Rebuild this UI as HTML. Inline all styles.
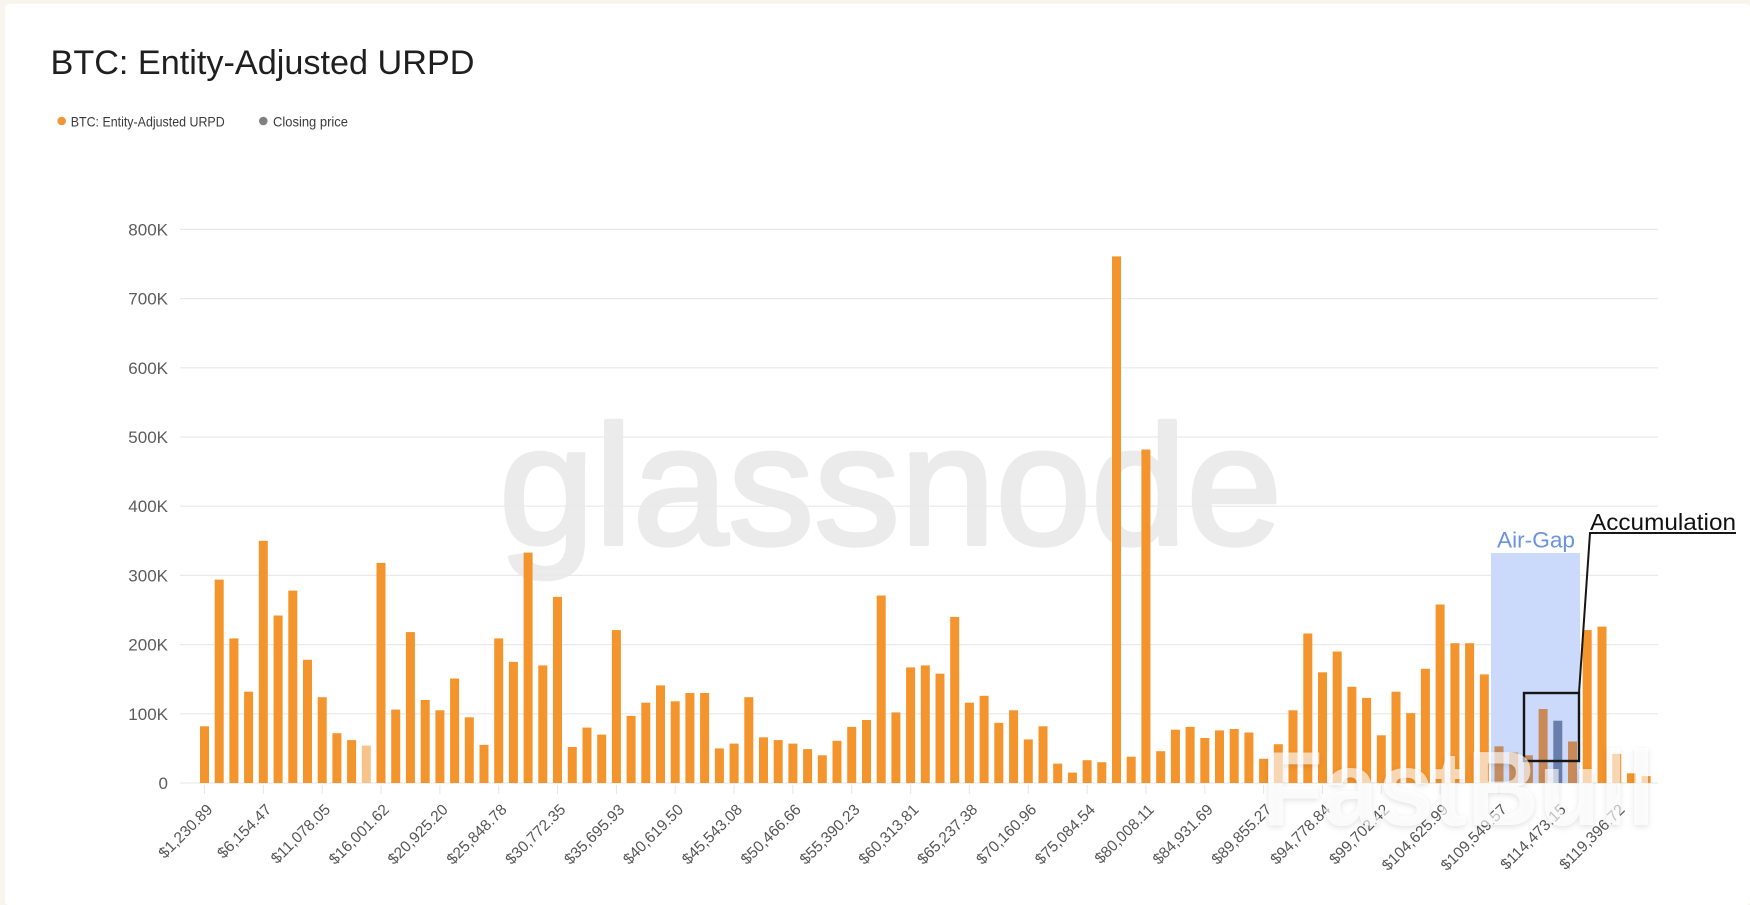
<!DOCTYPE html>
<html>
<head>
<meta charset="utf-8">
<style>
html,body{margin:0;padding:0;background:#f8f5ee;}
body{width:1750px;height:905px;overflow:hidden;}
svg{display:block;}
text{font-family:"Liberation Sans",sans-serif;}
</style>
</head>
<body>
<svg width="1750" height="905" viewBox="0 0 1750 905" xmlns="http://www.w3.org/2000/svg">
<defs>
<filter id="sh" x="-10%" y="-20%" width="120%" height="150%">
<feDropShadow dx="0" dy="2" stdDeviation="3" flood-color="#000" flood-opacity="0.18"/>
</filter>
</defs>
<rect x="0" y="0" width="1750" height="905" fill="#f8f5ee"/>
<rect x="5" y="4" width="1745" height="901" rx="4" fill="#ffffff"/>

<!-- Title -->
<text x="50.5" y="74" font-size="34" fill="#1f1f1f" textLength="424" lengthAdjust="spacingAndGlyphs">BTC: Entity-Adjusted URPD</text>

<!-- Legend -->
<circle cx="61.7" cy="121" r="4.3" fill="#f0953a"/>
<text x="70.7" y="126.5" font-size="14" fill="#3a3a3a" textLength="154" lengthAdjust="spacingAndGlyphs">BTC: Entity-Adjusted URPD</text>
<circle cx="263.3" cy="121" r="4.3" fill="#808080"/>
<text x="273" y="126.5" font-size="14" fill="#3a3a3a" textLength="75" lengthAdjust="spacingAndGlyphs">Closing price</text>

<!-- glassnode watermark -->
<text x="499" y="544" font-size="170" fill="#ebebeb" stroke="#ebebeb" stroke-width="4" stroke-linejoin="round" textLength="783" lengthAdjust="spacingAndGlyphs">glassnode</text>

<!-- gridlines -->
<g stroke="#e9e9e9" stroke-width="1.2">
<line x1="180" y1="229.4" x2="1658" y2="229.4"/>
<line x1="180" y1="298.6" x2="1658" y2="298.6"/>
<line x1="180" y1="367.8" x2="1658" y2="367.8"/>
<line x1="180" y1="437" x2="1658" y2="437"/>
<line x1="180" y1="506.2" x2="1658" y2="506.2"/>
<line x1="180" y1="575.4" x2="1658" y2="575.4"/>
<line x1="180" y1="644.6" x2="1658" y2="644.6"/>
<line x1="180" y1="713.8" x2="1658" y2="713.8"/>
<line x1="180" y1="783" x2="1658" y2="783"/>
</g>

<!-- Y axis labels -->
<g font-size="17" fill="#5c5c5c" text-anchor="end">
<text x="168" y="235.4">800K</text>
<text x="168" y="304.6">700K</text>
<text x="168" y="373.8">600K</text>
<text x="168" y="443">500K</text>
<text x="168" y="512.2">400K</text>
<text x="168" y="581.4">300K</text>
<text x="168" y="650.6">200K</text>
<text x="168" y="719.8">100K</text>
<text x="168" y="789">0</text>
</g>

<!-- Air-gap background -->
<rect x="1491" y="553" width="89" height="230" fill="#cbd9fb"/>

<!-- bars -->
<g fill="#f4942c">
<rect x="200.0" y="726.3" width="9" height="56.7"/>
<rect x="214.7" y="579.6" width="9" height="203.4"/>
<rect x="229.4" y="638.4" width="9" height="144.6"/>
<rect x="244.1" y="691.7" width="9" height="91.3"/>
<rect x="258.8" y="540.8" width="9" height="242.2"/>
<rect x="273.6" y="615.5" width="9" height="167.5"/>
<rect x="288.3" y="590.6" width="9" height="192.4"/>
<rect x="303.0" y="659.8" width="9" height="123.2"/>
<rect x="317.7" y="697.2" width="9" height="85.8"/>
<rect x="332.4" y="733.2" width="9" height="49.8"/>
<rect x="347.1" y="740.1" width="9" height="42.9"/>
<rect x="361.8" y="745.6" width="9" height="37.4" fill="#f7c38a"/>
<rect x="376.5" y="562.9" width="9" height="220.1"/>
<rect x="391.2" y="709.6" width="9" height="73.4"/>
<rect x="405.9" y="632.1" width="9" height="150.9"/>
<rect x="420.7" y="700.0" width="9" height="83.0"/>
<rect x="435.4" y="710.3" width="9" height="72.7"/>
<rect x="450.1" y="678.5" width="9" height="104.5"/>
<rect x="464.8" y="717.3" width="9" height="65.7"/>
<rect x="479.5" y="744.9" width="9" height="38.1"/>
<rect x="494.2" y="638.4" width="9" height="144.6"/>
<rect x="508.9" y="661.9" width="9" height="121.1"/>
<rect x="523.6" y="552.6" width="9" height="230.4"/>
<rect x="538.3" y="665.4" width="9" height="117.6"/>
<rect x="553.0" y="596.9" width="9" height="186.1"/>
<rect x="567.8" y="747.0" width="9" height="36.0"/>
<rect x="582.5" y="727.6" width="9" height="55.4"/>
<rect x="597.2" y="734.6" width="9" height="48.4"/>
<rect x="611.9" y="630.1" width="9" height="152.9"/>
<rect x="626.6" y="715.9" width="9" height="67.1"/>
<rect x="641.3" y="702.7" width="9" height="80.3"/>
<rect x="656.0" y="685.4" width="9" height="97.6"/>
<rect x="670.7" y="701.3" width="9" height="81.7"/>
<rect x="685.4" y="693.0" width="9" height="90.0"/>
<rect x="700.1" y="693.0" width="9" height="90.0"/>
<rect x="714.9" y="748.4" width="9" height="34.6"/>
<rect x="729.6" y="743.6" width="9" height="39.4"/>
<rect x="744.3" y="697.2" width="9" height="85.8"/>
<rect x="759.0" y="737.3" width="9" height="45.7"/>
<rect x="773.7" y="740.1" width="9" height="42.9"/>
<rect x="788.4" y="743.6" width="9" height="39.4"/>
<rect x="803.1" y="749.1" width="9" height="33.9"/>
<rect x="817.8" y="755.3" width="9" height="27.7"/>
<rect x="832.5" y="740.8" width="9" height="42.2"/>
<rect x="847.2" y="726.9" width="9" height="56.1"/>
<rect x="862.0" y="720.0" width="9" height="63.0"/>
<rect x="876.7" y="595.5" width="9" height="187.5"/>
<rect x="891.4" y="712.4" width="9" height="70.6"/>
<rect x="906.1" y="667.4" width="9" height="115.6"/>
<rect x="920.8" y="665.4" width="9" height="117.6"/>
<rect x="935.5" y="673.7" width="9" height="109.3"/>
<rect x="950.2" y="616.9" width="9" height="166.1"/>
<rect x="964.9" y="702.7" width="9" height="80.3"/>
<rect x="979.6" y="695.8" width="9" height="87.2"/>
<rect x="994.3" y="722.8" width="9" height="60.2"/>
<rect x="1009.1" y="710.3" width="9" height="72.7"/>
<rect x="1023.8" y="739.4" width="9" height="43.6"/>
<rect x="1038.5" y="726.3" width="9" height="56.7"/>
<rect x="1053.2" y="763.6" width="9" height="19.4"/>
<rect x="1067.9" y="772.6" width="9" height="10.4"/>
<rect x="1082.6" y="760.2" width="9" height="22.8"/>
<rect x="1097.3" y="762.2" width="9" height="20.8"/>
<rect x="1112.0" y="256.4" width="9" height="526.6"/>
<rect x="1126.7" y="756.7" width="9" height="26.3"/>
<rect x="1141.4" y="449.5" width="9" height="333.5"/>
<rect x="1156.2" y="751.2" width="9" height="31.8"/>
<rect x="1170.9" y="729.7" width="9" height="53.3"/>
<rect x="1185.6" y="726.9" width="9" height="56.1"/>
<rect x="1200.3" y="738.0" width="9" height="45.0"/>
<rect x="1215.0" y="730.4" width="9" height="52.6"/>
<rect x="1229.7" y="729.0" width="9" height="54.0"/>
<rect x="1244.4" y="732.5" width="9" height="50.5"/>
<rect x="1259.1" y="758.8" width="9" height="24.2"/>
<rect x="1273.8" y="744.2" width="9" height="38.8"/>
<rect x="1288.5" y="710.3" width="9" height="72.7"/>
<rect x="1303.3" y="633.5" width="9" height="149.5"/>
<rect x="1318.0" y="672.3" width="9" height="110.7"/>
<rect x="1332.7" y="651.5" width="9" height="131.5"/>
<rect x="1347.4" y="686.8" width="9" height="96.2"/>
<rect x="1362.1" y="697.9" width="9" height="85.1"/>
<rect x="1376.8" y="735.3" width="9" height="47.7"/>
<rect x="1391.5" y="691.7" width="9" height="91.3"/>
<rect x="1406.2" y="713.1" width="9" height="69.9"/>
<rect x="1420.9" y="668.8" width="9" height="114.2"/>
<rect x="1435.6" y="604.5" width="9" height="178.5"/>
<rect x="1450.4" y="643.2" width="9" height="139.8"/>
<rect x="1465.1" y="643.2" width="9" height="139.8"/>
<rect x="1479.8" y="674.4" width="9" height="108.6"/>
<rect x="1494.5" y="746.3" width="9" height="36.7" fill="#c58d5e"/>
<rect x="1509.2" y="752.6" width="9" height="30.4" fill="#c58d5e"/>
<rect x="1523.9" y="755.3" width="9" height="27.7" fill="#c58d5e"/>
<rect x="1538.6" y="709.0" width="9" height="74.0" fill="#c98a57"/>
<rect x="1553.3" y="720.7" width="9" height="62.3" fill="#6a7eab"/>
<rect x="1568.0" y="741.5" width="9" height="41.5" fill="#c98a57"/>
<rect x="1582.7" y="630.1" width="9" height="152.9"/>
<rect x="1597.5" y="626.6" width="9" height="156.4"/>
<rect x="1612.2" y="753.9" width="9" height="29.1"/>
<rect x="1626.9" y="773.3" width="9" height="9.7"/>
<rect x="1641.6" y="776.1" width="9" height="6.9"/>
</g>

<!-- ticks -->
<g stroke="#e6e6e6" stroke-width="1">
<line x1="204.5" y1="785" x2="204.5" y2="794"/>
<line x1="263.3" y1="785" x2="263.3" y2="794"/>
<line x1="322.2" y1="785" x2="322.2" y2="794"/>
<line x1="381.0" y1="785" x2="381.0" y2="794"/>
<line x1="439.9" y1="785" x2="439.9" y2="794"/>
<line x1="498.7" y1="785" x2="498.7" y2="794"/>
<line x1="557.5" y1="785" x2="557.5" y2="794"/>
<line x1="616.4" y1="785" x2="616.4" y2="794"/>
<line x1="675.2" y1="785" x2="675.2" y2="794"/>
<line x1="734.1" y1="785" x2="734.1" y2="794"/>
<line x1="792.9" y1="785" x2="792.9" y2="794"/>
<line x1="851.7" y1="785" x2="851.7" y2="794"/>
<line x1="910.6" y1="785" x2="910.6" y2="794"/>
<line x1="969.4" y1="785" x2="969.4" y2="794"/>
<line x1="1028.3" y1="785" x2="1028.3" y2="794"/>
<line x1="1087.1" y1="785" x2="1087.1" y2="794"/>
<line x1="1145.9" y1="785" x2="1145.9" y2="794"/>
<line x1="1204.8" y1="785" x2="1204.8" y2="794"/>
<line x1="1263.6" y1="785" x2="1263.6" y2="794"/>
<line x1="1322.5" y1="785" x2="1322.5" y2="794"/>
<line x1="1381.3" y1="785" x2="1381.3" y2="794"/>
<line x1="1440.1" y1="785" x2="1440.1" y2="794"/>
<line x1="1499.0" y1="785" x2="1499.0" y2="794"/>
<line x1="1557.8" y1="785" x2="1557.8" y2="794"/>
<line x1="1616.7" y1="785" x2="1616.7" y2="794"/>
</g>

<!-- X axis labels -->
<g font-size="15.5" fill="#555555" text-anchor="end">
<text transform="translate(213.5,810.5) rotate(-45)">$1,230.89</text>
<text transform="translate(272.3,810.5) rotate(-45)">$6,154.47</text>
<text transform="translate(331.2,810.5) rotate(-45)">$11,078.05</text>
<text transform="translate(390.0,810.5) rotate(-45)">$16,001.62</text>
<text transform="translate(448.9,810.5) rotate(-45)">$20,925.20</text>
<text transform="translate(507.7,810.5) rotate(-45)">$25,848.78</text>
<text transform="translate(566.5,810.5) rotate(-45)">$30,772.35</text>
<text transform="translate(625.4,810.5) rotate(-45)">$35,695.93</text>
<text transform="translate(684.2,810.5) rotate(-45)">$40,619.50</text>
<text transform="translate(743.1,810.5) rotate(-45)">$45,543.08</text>
<text transform="translate(801.9,810.5) rotate(-45)">$50,466.66</text>
<text transform="translate(860.7,810.5) rotate(-45)">$55,390.23</text>
<text transform="translate(919.6,810.5) rotate(-45)">$60,313.81</text>
<text transform="translate(978.4,810.5) rotate(-45)">$65,237.38</text>
<text transform="translate(1037.3,810.5) rotate(-45)">$70,160.96</text>
<text transform="translate(1096.1,810.5) rotate(-45)">$75,084.54</text>
<text transform="translate(1154.9,810.5) rotate(-45)">$80,008.11</text>
<text transform="translate(1213.8,810.5) rotate(-45)">$84,931.69</text>
<text transform="translate(1272.6,810.5) rotate(-45)">$89,855.27</text>
<text transform="translate(1331.5,810.5) rotate(-45)">$94,778.84</text>
<text transform="translate(1390.3,810.5) rotate(-45)">$99,702.42</text>
<text transform="translate(1449.1,810.5) rotate(-45)">$104,625.99</text>
<text transform="translate(1508.0,810.5) rotate(-45)">$109,549.57</text>
<text transform="translate(1566.8,810.5) rotate(-45)">$114,473.15</text>
<text transform="translate(1625.7,810.5) rotate(-45)">$119,396.72</text>
</g>

<!-- Air-Gap label -->
<text x="1497" y="547.5" font-size="22" fill="#6b94df" textLength="78" lengthAdjust="spacingAndGlyphs">Air-Gap</text>

<!-- Accumulation annotation -->
<rect x="1524" y="693" width="55" height="68" fill="none" stroke="#161616" stroke-width="2.4"/>
<polyline points="1579,693 1590,533 1736,533" fill="none" stroke="#161616" stroke-width="2"/>
<text x="1590" y="530" font-size="23" fill="#111111" textLength="146" lengthAdjust="spacingAndGlyphs">Accumulation</text>

<!-- FastBull watermark -->
<text x="1262" y="825" font-size="106" font-weight="bold" fill="#ffffff" fill-opacity="0.62" textLength="393" lengthAdjust="spacingAndGlyphs" filter="url(#sh)">FastBull</text>
</svg>
</body>
</html>
